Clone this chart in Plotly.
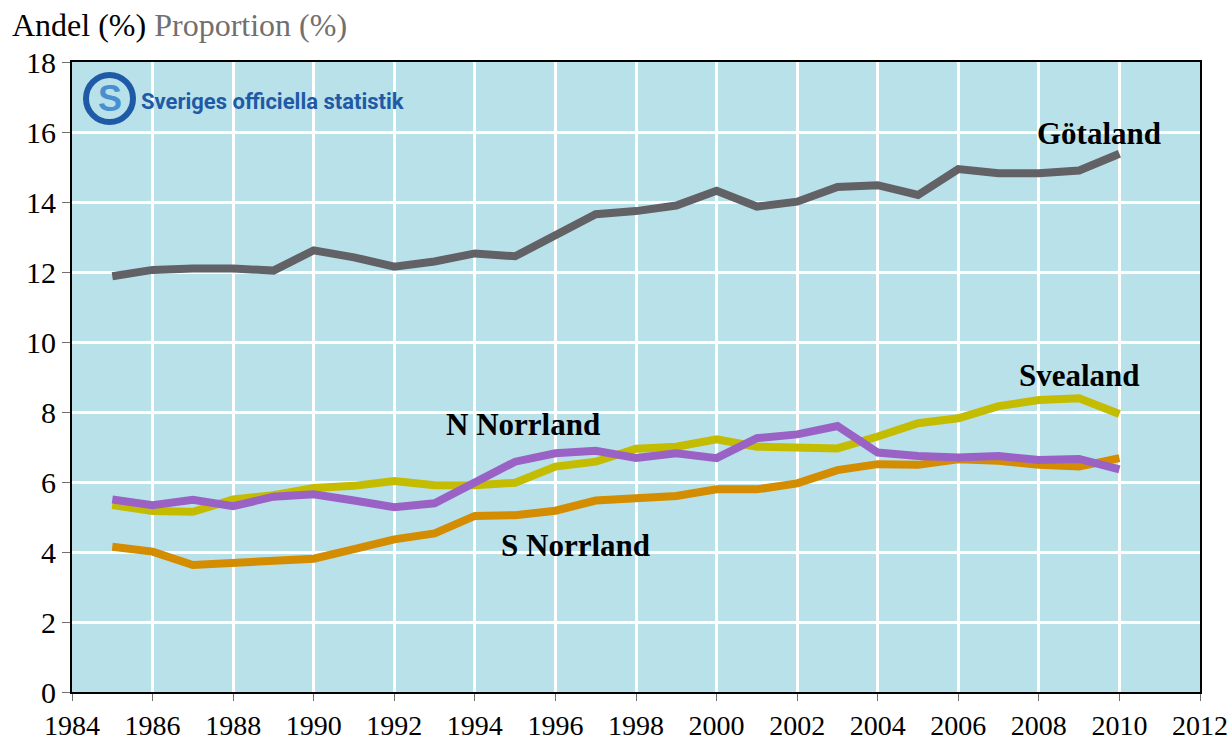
import plotly.graph_objects as go

years = list(range(1985, 2011))
gotaland = [11.88, 12.06, 12.1, 12.1, 12.04, 12.62, 12.42, 12.15, 12.3, 12.53, 12.45, 13.02, 13.65, 13.74, 13.9, 14.32, 13.87, 14.01, 14.43, 14.48, 14.2, 14.94, 14.82, 14.82, 14.9, 15.38]
svealand = [5.34, 5.17, 5.15, 5.5, 5.62, 5.83, 5.89, 6.03, 5.91, 5.91, 5.98, 6.44, 6.58, 6.95, 7.01, 7.22, 7.01, 7.01, 6.96, 7.3, 7.68, 7.82, 8.17, 8.34, 8.39, 7.94]
n_norrland = [5.5, 5.34, 5.49, 5.31, 5.58, 5.65, 5.47, 5.28, 5.39, 5.98, 6.58, 6.82, 6.89, 6.69, 6.82, 6.68, 7.25, 7.36, 7.6, 6.84, 6.74, 6.7, 6.74, 6.63, 6.66, 6.36]
s_norrland = [4.15, 4.01, 3.63, 3.69, 3.79, 3.81, 4.08, 4.36, 4.53, 5.03, 5.05, 5.18, 5.47, 5.56, 5.6, 5.79, 5.79, 5.96, 6.34, 6.51, 6.49, 6.65, 6.61, 6.49, 6.44, 6.68]

series = [
    ("Götaland", gotaland, "#616166"),
    ("Svealand", svealand, "#C4BC00"),
    ("S Norrland", s_norrland, "#D48C00"),
    ("N Norrland", n_norrland, "#9B62C6"),
]

labels = [
    ("Götaland", 2009.5, 15.97),
    ("Svealand", 2009.0, 9.03),
    ("N Norrland", 1995.2, 7.63),
    ("S Norrland", 1996.5, 4.2),
]

x_ticks = list(range(1984, 2013, 2))
y_ticks = list(range(0, 19, 2))

fig = go.Figure()
for name, vals, color in series:
    fig.add_trace(go.Scatter(x=years, y=vals, mode="lines", name=name,
                             line=dict(color=color, width=8), showlegend=False))

serif = "Liberation Serif"
for text, x, y in labels:
    fig.add_annotation(x=x, y=y, text=f"<b>{text}</b>", showarrow=False,
                       font=dict(family=serif, size=31, color="black"),
                       xanchor="center", yanchor="middle")

fig.add_annotation(xref="paper", yref="paper", x=-62/1128, y=1 + 37/630,
                   text='Andel (%) <span style="color:#707070">Proportion (%)</span>',
                   showarrow=False, xanchor="left", yanchor="middle",
                   font=dict(family=serif, size=32, color="black"))

# logo approximation
fig.add_shape(type="circle", xref="paper", yref="paper",
              x0=14/1128, x1=61/1128, y0=1 - 60/630, y1=1 - 13/630,
              line=dict(color="#1F5AA6", width=6), fillcolor="rgba(0,0,0,0)")
fig.add_annotation(xref="paper", yref="paper", x=37.5/1128, y=1 - 36.5/630,
                   text="<b>S</b>", showarrow=False, xanchor="center", yanchor="middle",
                   font=dict(family="Liberation Sans", size=36, color="#4A90D0"))
fig.add_annotation(xref="paper", yref="paper", x=67/1128, y=1 - 39/630,
                   text="<b>Sveriges officiella statistik</b>", showarrow=False,
                   xanchor="left", yanchor="middle",
                   font=dict(family="Roboto", size=22, color="#1F5AA6"))

fig.update_layout(
    width=1231, height=742,
    margin=dict(l=72, r=31, t=62, b=50),
    paper_bgcolor="white", plot_bgcolor="#B9E1EA",
    font=dict(family=serif, size=28, color="black"),
)
fig.update_xaxes(range=[1984, 2012], tickvals=x_ticks, showgrid=True, gridcolor="white",
                 gridwidth=3, showline=True, linecolor="black", linewidth=2, mirror=True,
                 ticks="outside", ticklen=7, tickcolor="#707070", tickwidth=1,
                 zeroline=False, automargin=False, tickfont=dict(family=serif, size=28))
fig.update_yaxes(range=[0, 18], tickvals=y_ticks, showgrid=True, gridcolor="white",
                 gridwidth=3, showline=True, linecolor="black", linewidth=2, mirror=True,
                 ticks="outside", ticklen=8, tickcolor="#707070", tickwidth=1,
                 zeroline=False, automargin=False, tickfont=dict(family=serif, size=30))

# remove the default 8px page margin so the figure fills the window exactly
fig.write_html("out.html", config={"displayModeBar": False},
               post_script="document.body.style.margin='0';document.body.style.overflow='hidden';")
